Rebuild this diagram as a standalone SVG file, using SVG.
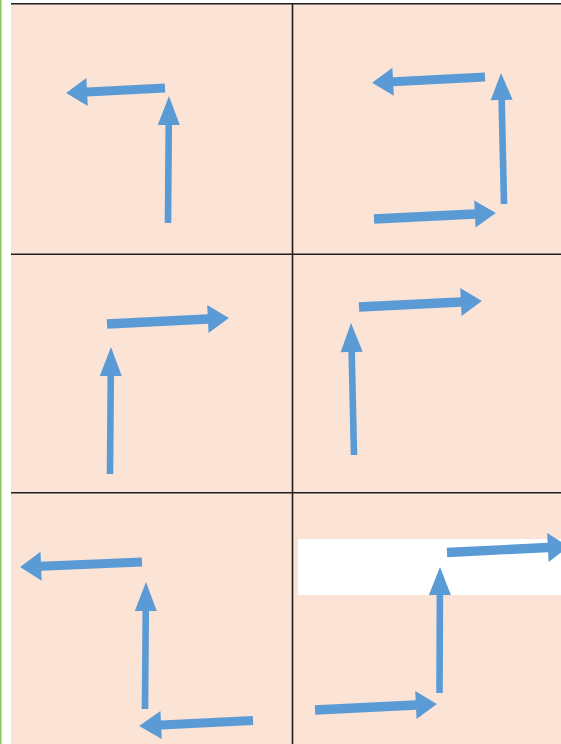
<svg xmlns="http://www.w3.org/2000/svg" width="561" height="744" viewBox="0 0 561 744">
  <style>
    .bg { fill: #FBE3D6; }
    .grid { stroke: #1f1f1f; stroke-width: 1.6; fill: none; }
    .arrow { fill: #5B9BD5; }
  </style>
  <rect x="0" y="0" width="561" height="744" fill="#ffffff"/>
  <rect x="0" y="0" width="1.5" height="744" fill="#8DC75B"/>
  <rect class="bg" x="11" y="3.5" width="550" height="740.5"/>
  <rect x="298" y="539" width="263" height="56" fill="#ffffff"/>

  <g id="grid">
    <line class="grid" x1="11" y1="3.8" x2="561" y2="3.8"/>
    <line class="grid" x1="292.5" y1="3.5" x2="292.5" y2="744"/>
    <line class="grid" x1="11" y1="254.2" x2="561" y2="254.2"/>
    <line class="grid" x1="11" y1="492.8" x2="561" y2="492.8"/>
  </g>

  <g id="connectors">
    <g id="cell-1">
      <polygon class="arrow" transform="translate(165,88) rotate(177.1)" points="0,-4.5 78,-4.5 78,-14 99,0 78,14 78,4.5 0,4.5"/>
      <polygon class="arrow" transform="translate(168,223) rotate(-89.55)" points="0,-3.3 98,-3.3 98,-11 127,0 98,11 98,3.3 0,3.3"/>
    </g>
    <g id="cell-2">
      <polygon class="arrow" transform="translate(485,77) rotate(177.1)" points="0,-4.5 92,-4.5 92,-14 113,0 92,14 92,4.5 0,4.5"/>
      <polygon class="arrow" transform="translate(504,204) rotate(-91.3)" points="0,-3.3 104,-3.3 104,-11 131,0 104,11 104,3.3 0,3.3"/>
      <polygon class="arrow" transform="translate(374,219) rotate(-2.82)" points="0,-4.7 101,-4.7 101,-13.5 122,0 101,13.5 101,4.7 0,4.7"/>
    </g>
    <g id="cell-3">
      <polygon class="arrow" transform="translate(107,324) rotate(-2.82)" points="0,-4.7 101,-4.7 101,-14 122,0 101,14 101,4.7 0,4.7"/>
      <polygon class="arrow" transform="translate(110,474) rotate(-89.55)" points="0,-3.3 98,-3.3 98,-11 127,0 98,11 98,3.3 0,3.3"/>
    </g>
    <g id="cell-4">
      <polygon class="arrow" transform="translate(359,307) rotate(-2.79)" points="0,-4.7 102,-4.7 102,-14 123,0 102,14 102,4.7 0,4.7"/>
      <polygon class="arrow" transform="translate(354,455) rotate(-91.3)" points="0,-3.3 103,-3.3 103,-11 132,0 103,11 103,3.3 0,3.3"/>
    </g>
    <g id="cell-5">
      <polygon class="arrow" transform="translate(142,562) rotate(177.65)" points="0,-4.5 101,-4.5 101,-14.5 122,0 101,14.5 101,4.5 0,4.5"/>
      <polygon class="arrow" transform="translate(145,709) rotate(-89.55)" points="0,-3.3 98,-3.3 98,-11 127,0 98,11 98,3.3 0,3.3"/>
      <polygon class="arrow" transform="translate(253,720.5) rotate(177.24)" points="0,-4.5 92,-4.5 92,-14 114,0 92,14 92,4.5 0,4.5"/>
    </g>
    <g id="cell-6">
      <polygon class="arrow" transform="translate(447,552.5) rotate(-2.82)" points="0,-4.7 101,-4.7 101,-14.5 122,0 101,14.5 101,4.7 0,4.7"/>
      <polygon class="arrow" transform="translate(439.5,693) rotate(-89.77)" points="0,-3.3 98,-3.3 98,-11 126,0 98,11 98,3.3 0,3.3"/>
      <polygon class="arrow" transform="translate(315,710) rotate(-2.82)" points="0,-4.7 101,-4.7 101,-14 122,0 101,14 101,4.7 0,4.7"/>
    </g>
  </g>
</svg>
